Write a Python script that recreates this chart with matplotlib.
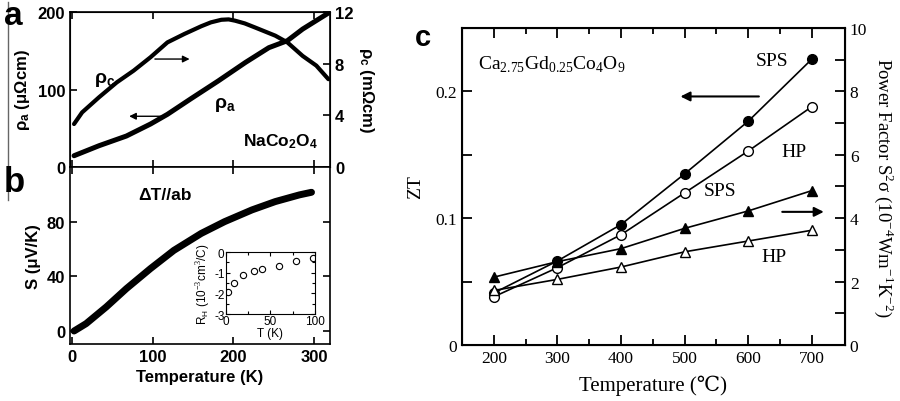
import matplotlib
matplotlib.use('Agg')
import matplotlib.pyplot as plt
from matplotlib.lines import Line2D
import numpy as np

plt.rcParams['font.family'] = ['Liberation Sans', 'DejaVu Sans']
plt.rcParams['mathtext.fontset'] = 'custom'
plt.rcParams['mathtext.rm'] = 'Liberation Serif'
plt.rcParams['mathtext.sf'] = 'Liberation Sans:bold'
plt.rcParams['mathtext.bf'] = 'Liberation Sans:bold'
plt.rcParams['mathtext.it'] = 'Liberation Sans'
plt.rcParams['axes.unicode_minus'] = False

# panel a: resistivity of NaCo2O4
T_rho_a = [2, 33, 67, 97, 118, 147, 181, 215, 244, 267, 286, 320]
rho_a = [14.6, 27.5, 40, 55.5, 68, 88, 111, 135, 154, 163, 178, 200]
T_rho_c = [2, 12, 33, 55, 76, 97, 118, 139, 160, 172, 185, 194, 202, 214, 227, 252, 267, 286, 303, 318]
rho_c = [3.33, 4.23, 5.4, 6.55, 7.46, 8.5, 9.65, 10.3, 10.9, 11.2, 11.4, 11.43, 11.33, 11.12, 10.8, 10.17, 9.65, 8.6, 7.85, 6.8]

# panel b: thermopower
T_S = [2, 17, 42, 67, 97, 126, 160, 189, 223, 252, 282, 297]
S = [0, 5.4, 17.6, 31, 45.7, 59, 71.4, 80, 88.6, 94.7, 99.6, 101.5]

# inset: Hall coefficient
T_RH = [2.7, 9.2, 19, 31, 40, 59, 79, 98]
RH = [-1.95, -1.49, -1.13, -0.92, -0.81, -0.66, -0.45, -0.29]

# panel c: Ca2.75Gd0.25Co4O9
temp_c = [200, 300, 400, 500, 600, 700]
zt_sps = [0.041, 0.0663, 0.095, 0.135, 0.1765, 0.2255]
zt_hp = [0.038, 0.061, 0.087, 0.120, 0.153, 0.188]
pf_sps = [2.14, 2.63, 3.04, 3.68, 4.23, 4.87]
pf_hp = [1.72, 2.07, 2.46, 2.94, 3.28, 3.62]

fig = plt.figure(figsize=(9, 4.02), dpi=100)
bold = dict(fontweight='bold', family=['Liberation Sans', 'DejaVu Sans'])
serif = ['Liberation Serif', 'DejaVu Serif']

# ---- panel a
axa = fig.add_axes([0.0778, 0.582, 0.2889, 0.3856])
axa2 = axa.twinx()
axa.plot(T_rho_a, rho_a, color='black', lw=3.6, solid_capstyle='round', solid_joinstyle='round')
axa2.plot(T_rho_c, rho_c, color='black', lw=3.0, solid_capstyle='round', solid_joinstyle='round')
axa.set_xlim(-3, 320)
axa.set_ylim(0, 200)
axa2.set_ylim(0, 12)
axa.set_xticks([0, 100, 200, 300])
axa.set_yticks([0, 100, 200])
axa2.set_yticks([0, 4, 8, 12])
axa.tick_params(direction='in', top=True, labelbottom=False, length=5, width=1.2, labelsize=12)
axa2.tick_params(direction='in', length=5, width=1.2, labelsize=12)
for lab in axa.get_yticklabels() + axa2.get_yticklabels():
    lab.set_fontweight('bold')
axa.set_ylabel('ρ$_\\mathsf{a}$ (μΩcm)', fontsize=12, labelpad=4, **bold)
axa2.set_ylabel('ρ$_\\mathsf{c}$ (mΩcm)', fontsize=12, rotation=270, labelpad=16, **bold)
for sp in axa.spines.values():
    sp.set_linewidth(1.2)
axa.annotate('', xy=(149, 8.36 * 200 / 12), xytext=(99, 8.36 * 200 / 12),
             arrowprops=dict(arrowstyle='-|>', lw=1.0, color='black', mutation_scale=10))
axa.annotate('', xy=(67, 65.5), xytext=(113, 65.5),
             arrowprops=dict(arrowstyle='-|>', lw=1.0, color='black', mutation_scale=10))
axa.text(40.5, 113.5, 'ρ$_\\mathsf{c}$', fontsize=14, ha='center', va='center', **bold)
axa.text(189, 81, 'ρ$_\\mathsf{a}$', fontsize=14, ha='center', va='center', **bold)
axa.text(259, 34, 'NaCo$_\\mathsf{2}$O$_\\mathsf{4}$', fontsize=12.5, ha='center', va='center', **bold)

# ---- panel b
axb = fig.add_axes([0.0778, 0.1418, 0.2889, 0.4403])
axb.plot(T_S, S, color='black', lw=5, solid_capstyle='round', solid_joinstyle='round')
axb.set_xlim(-3, 320)
axb.set_ylim(-9.5, 120)
axb.set_xticks([0, 100, 200, 300])
axb.set_yticks([0, 40, 80])
axb.tick_params(direction='in', top=True, right=True, length=5, width=1.2, labelsize=12)
for lab in axb.get_xticklabels() + axb.get_yticklabels():
    lab.set_fontweight('bold')
axb.set_xlabel('Temperature (K)', fontsize=12, labelpad=4, **bold)
axb.set_ylabel('S (μV/K)', fontsize=12, labelpad=4, **bold)
for sp in axb.spines.values():
    sp.set_linewidth(1.2)
axb.text(114.7, 99.6, 'ΔT//ab', fontsize=12.5, ha='center', va='center', **bold)

# inset
axi = fig.add_axes([0.2511, 0.2164, 0.0989, 0.1542])
axi.plot(T_RH, RH, 'o', mfc='white', mec='black', ms=4.5, mew=0.8)
axi.set_xlim(0, 100)
axi.set_ylim(-3, 0)
axi.set_xticks([0, 50, 100])
axi.set_xticks([25, 75], minor=True)
axi.set_yticks([-3, -2, -1, 0])
axi.set_yticks([-2.5, -1.5, -0.5], minor=True)
axi.tick_params(which='both', direction='in', top=True, right=True, length=3, width=0.8,
                labelsize=8.5, pad=1)
axi.tick_params(which='minor', length=2)
axi.set_xlabel('T (K)', fontsize=8.5, labelpad=0)
axi.set_ylabel('R$_\\mathit{H}$ (10$^\\mathit{-3}$cm$^\\mathit{3}$/C)', fontsize=8.5, labelpad=1)

# ---- panel c
axc = fig.add_axes([0.5133, 0.1393, 0.4256, 0.7886])
axc2 = axc.twinx()
axc.plot(temp_c, zt_sps, '-o', color='black', mfc='black', ms=7, lw=1.2)
axc.plot(temp_c, zt_hp, '-o', color='black', mfc='white', ms=7, lw=1.2)
axc2.plot(temp_c, pf_sps, '-^', color='black', mfc='black', ms=7.5, lw=1.2)
axc2.plot(temp_c, pf_hp, '-^', color='black', mfc='white', ms=7.5, lw=1.2)
axc.set_xlim(150, 752)
axc.set_ylim(0, 0.25)
axc2.set_ylim(0, 10)
axc.set_xticks(temp_c)
axc.set_xticks([250, 350, 450, 550, 650], minor=True)
axc.set_yticks([0, 0.05, 0.1, 0.15, 0.2])
axc.set_yticklabels(['0', '', '0.1', '', '0.2'])
axc2.set_yticks(range(0, 11))
axc2.set_yticklabels([str(v) if v % 2 == 0 else '' for v in range(0, 11)])
axc.tick_params(which='major', direction='in', top=True, length=7, width=1.3, labelsize=12.5)
axc.tick_params(which='minor', direction='in', top=True, length=4, width=1.3)
axc2.tick_params(direction='in', length=7, width=1.3, labelsize=12.5)
for lab in axc.get_xticklabels() + axc.get_yticklabels() + axc2.get_yticklabels():
    lab.set_family(serif)
for sp in axc.spines.values():
    sp.set_linewidth(1.5)
axc.set_xlabel('Temperature (℃)', fontsize=15, family=serif, labelpad=6)
axc.set_ylabel('ZT', fontsize=14, family=serif, labelpad=8)
axc2.set_ylabel('Power Factor S$^\\mathrm{2}$σ (10$^\\mathrm{-4}$Wm$^\\mathrm{-1}$K$^\\mathrm{-2}$)',
                fontsize=13.5, family=serif, rotation=270, labelpad=20)
axc.text(175, 0.222, 'Ca$_\\mathrm{2.75}$Gd$_\\mathrm{0.25}$Co$_\\mathrm{4}$O$_\\mathrm{9}$',
         fontsize=14, family=serif, ha='left', va='center')
axc.text(638, 0.2245, 'SPS', fontsize=14, family=serif, ha='center', va='center')
axc.text(672, 0.1526, 'HP', fontsize=14, family=serif, ha='center', va='center')
axc.text(555, 0.1217, 'SPS', fontsize=14, family=serif, ha='center', va='center')
axc.text(641, 0.0696, 'HP', fontsize=14, family=serif, ha='center', va='center')
axc.annotate('', xy=(489, 0.196), xytext=(621, 0.196),
             arrowprops=dict(arrowstyle='-|>', lw=1.5, color='black', mutation_scale=14))
axc.annotate('', xy=(723, 4.2 / 40), xytext=(649, 4.2 / 40),
             arrowprops=dict(arrowstyle='-|>', lw=1.5, color='black', mutation_scale=14))

# panel letters and the stray frame line at the left edge
fig.text(0.004, 0.997, 'a', fontsize=24, va='top', ha='left', **bold)
fig.text(0.004, 0.545, 'b', fontsize=25, va='center', ha='left', **bold)
fig.text(0.461, 0.905, 'c', fontsize=21, va='center', ha='left', **bold)
fig.add_artist(Line2D([0.0092, 0.0092], [0.5, 0.993], color='#666666', lw=1.0))

fig.savefig('out.png', dpi=100)
